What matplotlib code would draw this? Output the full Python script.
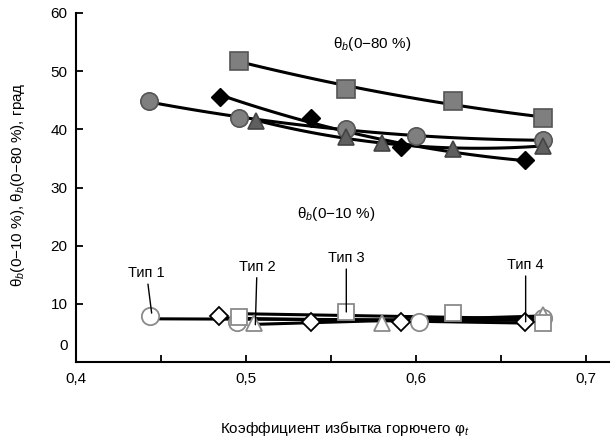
import numpy as np
import matplotlib
matplotlib.use("Agg")
import matplotlib.pyplot as plt
from matplotlib.transforms import ScaledTranslation

plt.rcParams['font.family'] = ['Liberation Sans Narrow', 'Liberation Sans', 'DejaVu Sans']
plt.rcParams['mathtext.fontset'] = 'custom'
plt.rcParams['mathtext.rm'] = 'Liberation Sans'
plt.rcParams['mathtext.it'] = 'Liberation Sans:italic'

# Upper group: theta_b(0-80 %), filled markers
sq80_x = [0.496, 0.559, 0.622, 0.675]
sq80_y = [51.8, 47.0, 44.8, 41.9]
ci80_x = [0.443, 0.496, 0.559, 0.600, 0.675]
ci80_y = [44.8, 41.9, 40.1, 38.9, 38.1]
di80_x = [0.485, 0.538, 0.591, 0.664]
di80_y = [45.6, 42.0, 36.9, 34.8]
tr80_x = [0.506, 0.559, 0.580, 0.622, 0.675]
tr80_y = [41.5, 38.6, 37.6, 36.7, 37.2]

# Lower group: theta_b(0-10 %), open markers
ci10_x = [0.4435, 0.495, 0.602, 0.675]
ci10_y = [7.9, 6.9, 6.9, 7.5]
sq10_x = [0.496, 0.559, 0.622, 0.675]
sq10_y = [7.7, 8.6, 8.4, 6.7]
di10_x = [0.484, 0.538, 0.591, 0.664]
di10_y = [7.9, 6.9, 6.9, 6.9]
tr10_x = [0.505, 0.580, 0.675]
tr10_y = [6.7, 6.7, 8.1]

type_labels = ['Тип 1', 'Тип 2', 'Тип 3', 'Тип 4']
type_text_xy = [(0.4415, 14.1), (0.5065, 15.2), (0.559, 16.7), (0.6645, 15.5)]
type_tip_xy = [(0.4445, 8.4), (0.5055, 6.4), (0.559, 8.6), (0.6645, 6.9)]

xticks = [0.4, 0.45, 0.5, 0.55, 0.6, 0.65, 0.7]
xticklabels = ['0,4', '', '0,5', '', '0,6', '', '0,7']
yticks = [0, 10, 20, 30, 40, 50, 60]

fig = plt.figure(figsize=(6.11, 4.41), dpi=100)
ax = fig.add_axes([76/611, 79/441, 533/611, 349/441])
ax.set_xlim(0.4, 0.4 + 533/1700)
ax.set_ylim(0, 60)


def trend(x, y, deg, **kw):
    p = np.polyfit(x, y, deg)
    xs = np.linspace(min(x), max(x), 100)
    ax.plot(xs, np.polyval(p, xs), color='black', lw=2.2, zorder=2, **kw)


# upper trends
trend(sq80_x, sq80_y, 2)
trend(ci80_x, ci80_y, 2)
trend(di80_x, di80_y, 2)
trend(tr80_x, tr80_y, 2)
# lower trends
trend(ci10_x, ci10_y, 1)
trend(sq10_x, sq10_y, 1)
trend(di10_x, di10_y, 1)
trend(tr10_x, tr10_y, 1)

gray = '#7f7f7f'
ax.plot(ci80_x, ci80_y, 'o', ms=12.5, mfc=gray, mec='#555555', mew=1.2, ls='none', zorder=3)
ax.plot(tr80_x, tr80_y, '^', ms=12, mfc='#5f5f5f', mec='#444444', mew=1.2, ls='none', zorder=3)
ax.plot(di80_x, di80_y, 'D', ms=9, mfc='black', mec='black', mew=1, ls='none', zorder=4)
ax.plot(sq80_x, sq80_y, 's', ms=12.5, mfc=gray, mec='#555555', mew=1.2, ls='none', zorder=3)

ax.plot(ci10_x, ci10_y, 'o', ms=12.5, mfc='white', mec='#8a8a8a', mew=1.3, ls='none', zorder=3)
ax.plot(tr10_x, tr10_y, '^', ms=12, mfc='white', mec='#8a8a8a', mew=1.3, ls='none', zorder=3)
ax.plot(sq10_x, sq10_y, 's', ms=12, mfc='white', mec='#8a8a8a', mew=1.3, ls='none', zorder=4)
ax.plot(di10_x, di10_y, 'D', ms=9, mfc='white', mec='black', mew=1.3, ls='none', zorder=4)

for lab, (tx, ty), (px, py) in zip(type_labels, type_text_xy, type_tip_xy):
    ax.annotate(lab, xy=(px, py), xytext=(tx, ty), ha='center', va='bottom', fontsize=10.5,
                arrowprops=dict(arrowstyle='-', color='black', lw=1, shrinkA=1, shrinkB=0), zorder=5)

ax.text(0.574, 54.7, 'θ$_b$(0−80 %)', ha='center', va='center', fontsize=11)
ax.text(0.553, 25.4, 'θ$_b$(0−10 %)', ha='center', va='center', fontsize=11)

for s in ['top', 'right']:
    ax.spines[s].set_visible(False)
for s in ['left', 'bottom']:
    ax.spines[s].set_linewidth(1.5)

ax.set_xticks(xticks)
ax.set_xticklabels(xticklabels)
ax.set_yticks(yticks)
ax.set_yticklabels([str(v) for v in yticks])
ax.tick_params(axis='both', direction='in', length=5, width=1.3, labelsize=11)
ax.tick_params(axis='x', pad=7)
ax.tick_params(axis='y', pad=6)
# zero label sits slightly above the axis, no tick mark at 0
ax.yaxis.get_major_ticks()[0].tick1line.set_visible(False)
lbl0 = ax.get_yticklabels()[0]
lbl0.set_transform(lbl0.get_transform() + ScaledTranslation(0, 0.17, fig.dpi_scale_trans))

fig.text(18/611, 1 - 185/441, 'θ$_b$(0−10 %), θ$_b$(0−80 %), град', rotation=90,
         ha='center', va='center', fontsize=11)
fig.text(345/611, 1 - 428/441, 'Коэффициент избытка горючего φ$_t$', ha='center', va='center',
         fontsize=11)

fig.savefig('out.png', dpi=100)
